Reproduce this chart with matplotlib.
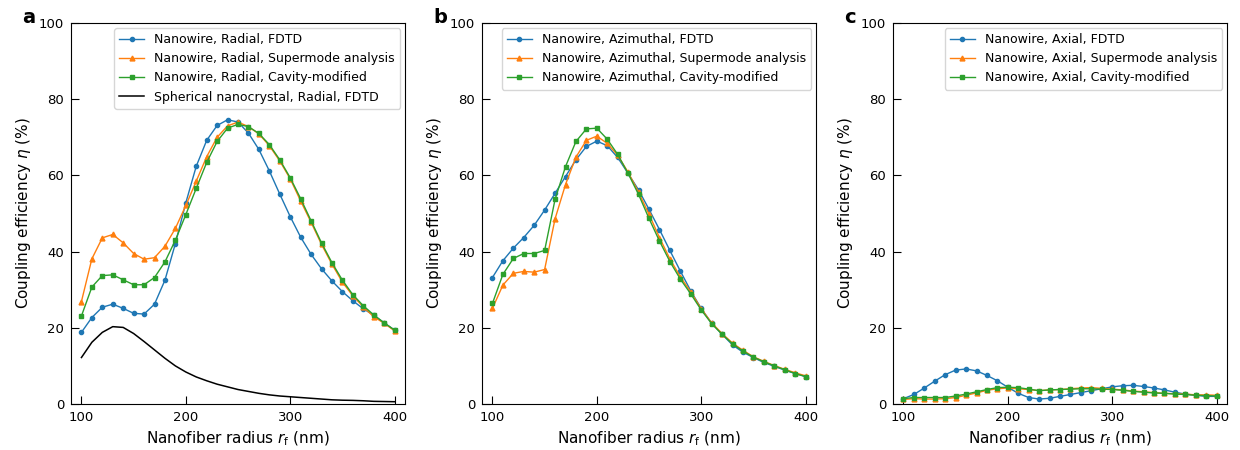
import matplotlib
matplotlib.use("Agg")
import matplotlib.pyplot as plt
import numpy as np

r = np.arange(100, 401, 10)

# panel a - radial
rad_fdtd = [18.8, 22.7, 25.4, 26.2, 25.1, 23.8, 23.6, 26.2, 32.5, 42.1, 52.8,
            62.4, 69.2, 73.1, 74.6, 74.0, 71.1, 66.8, 61.2, 55.1, 49.2,
            43.8, 39.3, 35.5, 32.3, 29.5, 27.1, 25.0, 23.3, 21.3, 19.4]
rad_super = [26.9, 38.1, 43.6, 44.5, 42.3, 39.5, 38.0, 38.4, 41.4, 46.1, 52.1,
             58.5, 64.9, 70.0, 73.0, 74.0, 72.8, 70.9, 67.8, 63.8, 59.1,
             53.3, 47.7, 41.9, 36.7, 32.0, 28.4, 25.5, 22.9, 21.2, 19.2]
rad_cavity = [23.1, 30.7, 33.7, 33.9, 32.6, 31.3, 31.3, 33.2, 37.3, 43.0, 49.7,
              56.6, 63.4, 68.9, 72.4, 73.4, 72.8, 71.0, 68.1, 64.1, 59.4,
              53.9, 48.1, 42.3, 37.1, 32.5, 28.7, 25.8, 23.4, 21.3, 19.4]
sphere_fdtd = [12.2, 16.2, 18.8, 20.3, 20.1, 18.5, 16.4, 14.2, 12.0, 10.0, 8.4,
               7.1, 6.1, 5.2, 4.5, 3.8, 3.3, 2.8, 2.4, 2.1, 1.9,
               1.7, 1.5, 1.3, 1.1, 1.0, 0.95, 0.85, 0.7, 0.65, 0.6]

# panel b - azimuthal
azi_fdtd = [33.2, 37.6, 40.9, 43.7, 46.9, 50.9, 55.3, 59.7, 64.1, 67.6, 69.0,
            67.8, 64.7, 60.5, 56.2, 51.1, 45.8, 40.3, 34.9, 29.7, 25.1,
            21.2, 18.3, 15.5, 13.6, 12.2, 10.9, 9.9, 8.9, 8.0, 7.2]
azi_super = [25.1, 31.2, 34.3, 34.8, 34.6, 35.3, 48.6, 57.6, 64.8, 69.2, 70.3,
             68.4, 65.3, 60.8, 55.6, 49.8, 43.7, 38.1, 33.4, 29.4, 25.0,
             21.3, 18.5, 16.0, 14.1, 12.4, 11.2, 10.1, 9.1, 8.2, 7.4]
azi_cavity = [26.4, 34.0, 38.2, 39.5, 39.5, 40.3, 53.7, 62.3, 68.9, 72.2, 72.4,
              69.5, 65.5, 60.5, 55.0, 48.7, 42.8, 37.4, 32.8, 28.9, 24.7,
              21.1, 18.3, 15.8, 13.9, 12.3, 11.1, 10.0, 9.0, 8.0, 7.2]

# panel c - axial
axi_fdtd = [1.4, 2.5, 4.2, 6.0, 7.7, 8.9, 9.2, 8.7, 7.5, 6.1, 4.4,
            2.8, 1.7, 1.3, 1.5, 2.0, 2.5, 3.0, 3.5, 4.0, 4.5,
            4.8, 4.9, 4.6, 4.2, 3.7, 3.1, 2.6, 2.3, 2.0, 2.0]
axi_super = [1.2, 1.4, 1.3, 1.3, 1.4, 1.7, 2.3, 2.9, 3.6, 4.0, 4.2,
             4.0, 3.8, 3.5, 3.7, 3.8, 4.0, 4.2, 4.3, 4.1, 3.9,
             3.7, 3.4, 3.2, 3.0, 2.8, 2.7, 2.6, 2.4, 2.4, 2.3]
axi_cavity = [1.4, 1.7, 1.7, 1.7, 1.7, 2.1, 2.6, 3.2, 3.8, 4.3, 4.4,
              4.3, 3.9, 3.5, 3.7, 3.8, 3.9, 4.0, 4.0, 3.9, 3.8,
              3.6, 3.3, 3.1, 2.9, 2.8, 2.6, 2.5, 2.3, 2.2, 2.1]

panels = [
    ("a", "Radial", rad_fdtd, rad_super, rad_cavity),
    ("b", "Azimuthal", azi_fdtd, azi_super, azi_cavity),
    ("c", "Axial", axi_fdtd, axi_super, axi_cavity),
]

fig = plt.figure(figsize=(12.4, 4.5), dpi=100)
lefts = [71 / 1240, 482 / 1240, 893 / 1240]

for left, (tag, pol, fdtd, sup, cav) in zip(lefts, panels):
    ax = fig.add_axes([left, 46 / 450, 334 / 1240, 381 / 450])
    ax.plot(r, fdtd, color="C0", marker="o", ms=3, lw=1,
            label="Nanowire, %s, FDTD" % pol)
    ax.plot(r, sup, color="C1", marker="^", ms=3.5, lw=1,
            label="Nanowire, %s, Supermode analysis" % pol)
    ax.plot(r, cav, color="C2", marker="s", ms=3, lw=1,
            label="Nanowire, %s, Cavity-modified" % pol)
    if tag == "a":
        ax.plot(r, sphere_fdtd, color="black", lw=1.1,
                label="Spherical nanocrystal, Radial, FDTD")
    ax.set_xlim(90, 410)
    ax.set_ylim(0, 100)
    ax.set_xticks([100, 200, 300, 400])
    ax.set_yticks([0, 20, 40, 60, 80, 100])
    ax.tick_params(direction="in", length=6, labelsize=9.5, pad=5)
    ax.set_xlabel(r"Nanofiber radius $r_\mathrm{f}$ (nm)", fontsize=11)
    ax.set_ylabel(r"Coupling efficiency $\eta$ (%)", fontsize=11)
    ax.legend(loc="upper right", fontsize=9, handlelength=2,
              borderaxespad=0.4)
    ax.text(-0.145, 1.0, tag, transform=ax.transAxes, fontsize=14,
            fontweight="bold", ha="left", va="baseline")

fig.savefig("out.png", dpi=100)
